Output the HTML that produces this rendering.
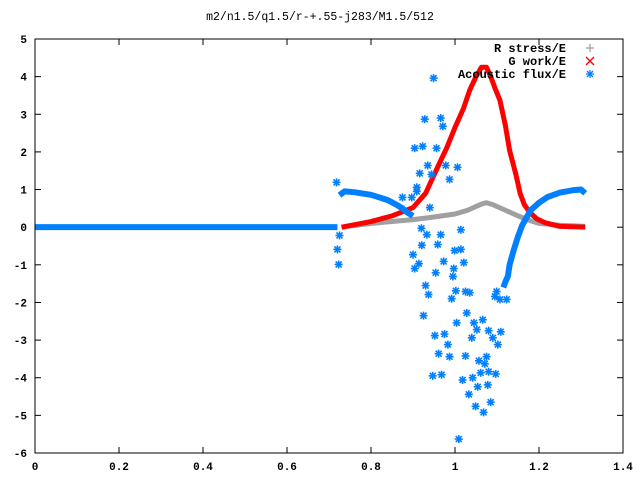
<!DOCTYPE html>
<html><head><meta charset="utf-8"><style>
body{margin:0;background:#fff}
svg text{font-family:"Liberation Mono",monospace;font-size:11px;font-weight:bold;fill:#000}
</style></head><body>
<svg id="chart" width="640" height="480" xmlns="http://www.w3.org/2000/svg">
<rect width="640" height="480" fill="#fff"/>
<text x="320" y="20" text-anchor="middle" style="font-weight:normal;font-size:11.5px">m2/n1.5/q1.5/r-+.55-j283/M1.5/512</text>
<g id="axes"></g>
<g id="plot"></g>
<rect x="35" y="39" width="588" height="414" fill="none" stroke="#000" stroke-width="1"/>
<g id="legend"></g>
</svg>
<script>
const xTicks=[0,0.2,0.4,0.6,0.8,1,1.2,1.4];
const xTickLabels=["0","0.2","0.4","0.6","0.8","1","1.2","1.4"];
const yTicks=[-6,-5,-4,-3,-2,-1,0,1,2,3,4,5];
const yTickLabels=["-6","-5","-4","-3","-2","-1","0","1","2","3","4","5"];
const seriesNames=["R stress/E","G work/E","Acoustic flux/E"];
const rStressX=[0.73,0.8,0.85,0.9,0.95,1.0,1.03,1.05,1.065,1.075,1.09,1.1,1.12,1.15,1.18,1.2,1.25,1.31];
const rStressY=[0,0.1,0.15,0.2,0.27,0.35,0.45,0.55,0.62,0.65,0.6,0.55,0.45,0.3,0.17,0.1,0.05,0.02];
const gWorkX=[0.73,0.8,0.85,0.9,0.93,0.963,0.98,1.0,1.02,1.035,1.05,1.063,1.075,1.085,1.095,1.107,1.12,1.13,1.145,1.155,1.165,1.178,1.195,1.214,1.25,1.31];
const gWorkY=[0,0.15,0.3,0.52,0.9,1.7,2.1,2.65,3.15,3.64,4.0,4.25,4.25,4.0,3.7,3.37,2.7,2.04,1.4,0.9,0.6,0.39,0.22,0.12,0.02,0];
const fluxLeftX=[0,0.2,0.4,0.6,0.72];
const fluxLeftY=[0,0,0,0,0];
const fluxUpX=[0.725,0.737,0.76,0.8,0.84,0.86,0.875,0.885,0.9];
const fluxUpY=[0.85,0.95,0.93,0.86,0.72,0.6,0.5,0.4,0.3];
const fluxRightX=[1.115,1.12,1.126,1.13,1.14,1.15,1.16,1.17,1.18,1.2,1.22,1.25,1.28,1.3,1.31];
const fluxRightY=[-1.6,-1.45,-1.3,-1.0,-0.6,-0.25,0.05,0.25,0.45,0.65,0.8,0.92,0.98,1.0,0.9];
const fluxScatterX=[0.725,0.72,0.723,0.92,0.933,0.966,1.014,0.921,0.959,0.9,0.999,1.014,0.914,0.904,0.973,1.021,0.954,0.997,0.995,0.93,0.937,1.002,0.992,1.025,1.035,0.925,1.028,1.004,1.045,1.066,1.052,0.952,0.975,1.04,1.08,1.09,1.109,0.983,1.102,0.961,0.987,1.025,1.057,1.075,1.071,0.947,0.968,1.018,1.042,1.061,1.08,1.097,1.054,1.078,1.033,1.085,1.049,1.068,1.009,1.099,1.095,1.107,1.123,0.949,0.928,0.966,0.971,0.904,0.923,0.956,0.935,0.978,1.006,0.916,0.944,0.987,0.909,0.909,0.718,0.94,0.875,0.897];
const fluxScatterY=[-0.22,-0.59,-0.99,-0.03,-0.2,-0.2,-0.07,-0.48,-0.46,-0.73,-0.62,-0.59,-0.97,-1.1,-0.91,-0.94,-1.21,-1.1,-1.31,-1.55,-1.79,-1.69,-1.9,-1.71,-1.74,-2.35,-2.28,-2.54,-2.54,-2.46,-2.72,-2.88,-2.84,-2.94,-2.75,-2.94,-2.78,-3.12,-3.12,-3.36,-3.44,-3.42,-3.55,-3.44,-3.63,-3.95,-3.92,-4.06,-4.0,-3.87,-3.84,-3.9,-4.24,-4.19,-4.44,-4.65,-4.76,-4.92,-5.63,-1.71,-1.84,-1.92,-1.92,3.96,2.87,2.9,2.68,2.1,2.15,2.1,1.64,1.64,1.59,1.43,1.4,1.27,1.06,0.95,1.19,0.52,0.79,0.79];

const NS="http://www.w3.org/2000/svg";
const X0=35,X1=623,Y0=453,Y1=39,XMIN=0,XMAX=1.4,YMIN=-6,YMAX=5;
function sx(v){return X0+(v-XMIN)/(XMAX-XMIN)*(X1-X0);}
function sy(v){return Y0-(v-YMIN)/(YMAX-YMIN)*(Y0-Y1);}
function mk(tag,attrs,parent){const e=document.createElementNS(NS,tag);for(const k in attrs)e.setAttribute(k,attrs[k]);parent.appendChild(e);return e;}
const axes=document.getElementById('axes'),plot=document.getElementById('plot'),legend=document.getElementById('legend');
xTicks.forEach((t,i)=>{const x=sx(t);
 const a=mk('line',{x1:x,x2:x,y1:Y0,y2:Y0-6,stroke:'#000'},axes);
 
 
 const b=mk('line',{x1:x,x2:x,y1:Y1,y2:Y1+6,stroke:'#000'},axes);
 
 
 const tx=mk('text',{x:x,y:470,'text-anchor':'middle'},axes);tx.textContent=xTickLabels[i];
 
 
});
yTicks.forEach((t,i)=>{const y=sy(t);
 const a=mk('line',{x1:X0,x2:X0+6,y1:y,y2:y,stroke:'#000'},axes);
 
 
 const b=mk('line',{x1:X1,x2:X1-6,y1:y,y2:y,stroke:'#000'},axes);
 
 
 const tx=mk('text',{x:27,y:y+4,'text-anchor':'end'},axes);tx.textContent=yTickLabels[i];
 
 
});
function line(xs,ys,color,w,name){
 const p=mk('polyline',{points:xs.map((x,i)=>sx(x)+','+sy(ys[i])).join(' '),fill:'none',stroke:color,'stroke-width':w,'stroke-linejoin':'round'},plot);
 
 
}
function star(x,y,c,parent,name){
 const g=mk('g',{stroke:c,'stroke-width':1.6},parent);
 
 
 const r=4;
 mk('line',{x1:x-r,x2:x+r,y1:y,y2:y},g);mk('line',{x1:x,x2:x,y1:y-r,y2:y+r},g);
 mk('line',{x1:x-3,x2:x+3,y1:y-3,y2:y+3},g);mk('line',{x1:x-3,x2:x+3,y1:y+3,y2:y-3},g);
}
line(rStressX,rStressY,'#a0a0a0',5,'r-stress-series');
line(gWorkX,gWorkY,'#ff0000',5,'g-work-series');
line(fluxLeftX,fluxLeftY,'#0080ff',6,'acoustic-flux-zero-branch');
line(fluxUpX,fluxUpY,'#0080ff',6,'acoustic-flux-upper-branch');
line(fluxRightX,fluxRightY,'#0080ff',6,'acoustic-flux-right-branch');
fluxScatterX.forEach((x,i)=>star(sx(x),sy(fluxScatterY[i]),'#0080ff',plot,'acoustic-flux-point'));
const colors=['#a0a0a0','#ff0000','#0080ff'];
seriesNames.forEach((n,i)=>{const y=48+i*13;
 const t=mk('text',{x:566,y:y+4,'text-anchor':'end','font-size':'12'},legend);t.textContent=n;
 t.setAttribute('style','font-size:12px');
 
 
 const g=mk('g',{stroke:colors[i],'stroke-width':1.3},legend);
 
 
 const x=590;
 if(i===0){mk('line',{x1:x-4,x2:x+4,y1:y,y2:y},g);mk('line',{x1:x,x2:x,y1:y-4,y2:y+4},g);}
 else if(i===1){mk('line',{x1:x-4,x2:x+4,y1:y-4,y2:y+4},g);mk('line',{x1:x-4,x2:x+4,y1:y+4,y2:y-4},g);}
 else{mk('line',{x1:x-4,x2:x+4,y1:y,y2:y},g);mk('line',{x1:x,x2:x,y1:y-4,y2:y+4},g);mk('line',{x1:x-3,x2:x+3,y1:y-3,y2:y+3},g);mk('line',{x1:x-3,x2:x+3,y1:y+3,y2:y-3},g);}
});
</script>
</body></html>
